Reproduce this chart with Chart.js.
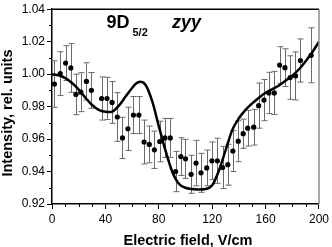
<!DOCTYPE html>
<html>
<head>
<meta charset="utf-8">
<script src="https://cdn.jsdelivr.net/npm/chart.js@4"></script>
<style>
  html, body { margin: 0; padding: 0; background: #fff; }
  #wrap { width: 332px; height: 247px; }
</style>
</head>
<body>
<div id="wrap"><canvas id="fieldChart" width="332" height="247"></canvas></div>
<script>
  /**************Measured points**************/
  let fieldE = [1.8, 6.2, 10.2, 14.1, 17.9, 21.6, 25.8, 29.5, 37.2, 41.2, 45.0, 48.9,
    52.8, 56.9, 61.0, 65.1, 69.0, 72.9, 76.7, 80.7, 84.6, 88.6, 92.6, 96.5,
    100.0, 104.2, 107.9, 111.6, 115.9, 119.8, 123.9, 127.8, 131.7, 135.5, 139.5, 143.2,
    146.6, 151.1, 154.8, 158.8, 162.5, 166.5, 170.5, 174.5, 178.4, 182.4, 186.1, 194.1];
  let intensity = [0.9939, 1.0003, 1.0068, 1.0038, 0.9875, 0.9889, 0.9955, 0.9900, 0.9850, 0.9850, 0.9826, 0.9736,
    0.9607, 0.9663, 0.9748, 0.9748, 0.9582, 0.9567, 0.9534, 0.9585, 0.9607, 0.9607, 0.9400, 0.9492,
    0.9478, 0.9383, 0.9452, 0.9392, 0.9422, 0.9466, 0.9466, 0.9425, 0.9442, 0.9526, 0.9587, 0.9633,
    0.9667, 0.9673, 0.9806, 0.9840, 0.9884, 0.9884, 1.0056, 1.0040, 0.9979, 0.9989, 1.0084, 1.0116];
  let errHalf = [0.0143, 0.0135, 0.0107, 0.0150, 0.0125, 0.0120, 0.0115, 0.0110, 0.0133, 0.0130, 0.0129, 0.0150,
    0.0127, 0.0133, 0.0114, 0.0114, 0.0135, 0.0113, 0.0115, 0.0125, 0.0120, 0.0120, 0.0124, 0.0116,
    0.0120, 0.0117, 0.0140, 0.0120, 0.0110, 0.0116, 0.0139, 0.0130, 0.0126, 0.0126, 0.0126, 0.0090,
    0.0110, 0.0110, 0.0139, 0.0127, 0.0127, 0.0133, 0.0113, 0.0116, 0.0134, 0.0148, 0.0133, 0.0169];

  /**************Fitted curve**************/
  let fitE = [0, 5, 10, 15, 20, 25, 30, 35, 40, 44, 50, 55, 60, 63, 66, 70, 75, 80, 85, 90, 95, 100,
    105, 110, 115, 120, 125, 130, 135, 140, 145, 150, 155, 160, 165, 170, 175, 180, 185, 190, 195, 200];
  let fitI = [1.000, 0.9993, 0.9975, 0.9945, 0.9905, 0.9855, 0.9810, 0.9780, 0.9768, 0.9766, 0.9805, 0.9860, 0.9915, 0.9942, 0.9953, 0.9935, 0.9835, 0.9680, 0.9530, 0.9400, 0.9325, 0.9300,
    0.9292, 0.9289, 0.9292, 0.9315, 0.9405, 0.9530, 0.9655, 0.9728, 0.9780, 0.9820, 0.9855, 0.9885, 0.9908, 0.9930, 0.9960, 0.9990, 1.0030, 1.0080, 1.0135, 1.0200];

  /**************Axis ticks**************/
  let xMajor = [0, 40, 80, 120, 160, 200];
  let yMajor = [0.92, 0.94, 0.96, 0.98, 1.00, 1.02, 1.04];

  Chart.defaults.font.family = "'Liberation Sans', Arial, sans-serif";
  Chart.defaults.color = '#000';

  let points = fieldE.map((e, i) => ({ x: e, y: intensity[i] }));
  let fitLine = fitE.map((e, i) => ({ x: e, y: fitI[i] }));

  /**************Error bars, minor ticks, frame and texts**************/
  let extras = {
    id: 'extras',
    beforeDatasetsDraw(chart) {
      let ctx = chart.ctx;
      let xs = chart.scales.x, ys = chart.scales.y;
      ctx.save();
      ctx.strokeStyle = '#6a6a6a';
      ctx.lineWidth = 1;
      for (let i = 0; i < fieldE.length; i++) {
        let px = Math.round(xs.getPixelForValue(fieldE[i])) + 0.5;
        let top = ys.getPixelForValue(intensity[i] + errHalf[i]);
        let bot = ys.getPixelForValue(intensity[i] - errHalf[i]);
        ctx.beginPath();
        ctx.moveTo(px, top); ctx.lineTo(px, bot);
        ctx.moveTo(px - 3, top); ctx.lineTo(px + 3, top);
        ctx.moveTo(px - 3, bot); ctx.lineTo(px + 3, bot);
        ctx.stroke();
      }
      ctx.restore();
    },
    afterDraw(chart) {
      let ctx = chart.ctx;
      let area = chart.chartArea;
      let xs = chart.scales.x, ys = chart.scales.y;
      ctx.save();
      // frame
      ctx.strokeStyle = '#000';
      ctx.lineWidth = 1.5;
      ctx.beginPath();
      ctx.moveTo(area.left, area.top); ctx.lineTo(area.right, area.top);
      ctx.stroke();
      ctx.strokeStyle = '#8a8a8a';
      ctx.beginPath();
      ctx.moveTo(area.right, area.top); ctx.lineTo(area.right, area.bottom);
      ctx.stroke();
      // minor ticks
      ctx.strokeStyle = '#000';
      ctx.lineWidth = 1;
      ctx.beginPath();
      for (let v = 10; v < 200; v += 20) {
        let px = Math.round(xs.getPixelForValue(v)) + 0.5;
        ctx.moveTo(px, area.bottom); ctx.lineTo(px, area.bottom + 3);
      }
      for (let v = 20; v < 200; v += 40) {
        let px = Math.round(xs.getPixelForValue(v)) + 0.5;
        ctx.moveTo(px, area.bottom); ctx.lineTo(px, area.bottom + 3);
      }
      for (let v = 0.93; v < 1.04; v += 0.02) {
        let py = Math.round(ys.getPixelForValue(v)) + 0.5;
        ctx.moveTo(area.left, py); ctx.lineTo(area.left - 3, py);
      }
      ctx.stroke();
      // axis titles
      ctx.fillStyle = '#000';
      ctx.font = "bold 14.5px 'Liberation Sans', Arial, sans-serif";
      ctx.textAlign = 'center';
      ctx.textBaseline = 'alphabetic';
      ctx.fillText('Electric field, V/cm', 188, 244.5);
      ctx.save();
      ctx.translate(12, 113);
      ctx.rotate(-Math.PI / 2);
      ctx.fillText('Intensity, rel. units', 0, 0);
      ctx.restore();
      // state label
      ctx.textAlign = 'left';
      ctx.font = "bold 18px 'Liberation Sans', Arial, sans-serif";
      ctx.fillText('9D', 106.5, 28);
      ctx.font = "bold 11px 'Liberation Sans', Arial, sans-serif";
      ctx.fillText('5/2', 132.5, 36);
      ctx.font = "italic bold 18px 'Liberation Sans', Arial, sans-serif";
      ctx.fillText('zyy', 172, 28);
      ctx.restore();
    }
  };

  new Chart(document.getElementById('fieldChart'), {
    type: 'scatter',
    data: {
      datasets: [
        { label: 'fit', type: 'line', data: fitLine, borderColor: '#000', borderWidth: 2.5,
          pointRadius: 0, tension: 0.4, cubicInterpolationMode: 'monotone', fill: false, order: 1 },
        { label: 'data', data: points, backgroundColor: '#000', borderColor: '#000',
          pointRadius: 2.6, borderWidth: 0, order: 2 }
      ]
    },
    options: {
      responsive: false,
      animation: false,
      events: [],
      layout: { padding: { top: 5, right: 11, left: 0, bottom: 0 } },
      plugins: { legend: { display: false }, tooltip: { enabled: false } },
      scales: {
        x: {
          type: 'linear', min: 0, max: 200,
          afterBuildTicks: s => { s.ticks = xMajor.map(v => ({ value: v })); },
          afterFit: s => { s.height = 43; },
          grid: { drawOnChartArea: false, tickLength: 5, color: '#000', tickColor: '#000' },
          border: { color: '#000', width: 1.5 },
          ticks: { font: { size: 12 }, padding: 3, maxRotation: 0 }
        },
        y: {
          min: 0.92, max: 1.04,
          afterBuildTicks: s => { s.ticks = yMajor.map(v => ({ value: v })); },
          afterFit: s => { s.width = 52; },
          grid: { drawOnChartArea: false, tickLength: 5, color: '#000', tickColor: '#000' },
          border: { color: '#000', width: 1.5 },
          ticks: { font: { size: 12 }, padding: 2, callback: v => v.toFixed(2) }
        }
      }
    },
    plugins: [extras]
  });
</script>
</body>
</html>
